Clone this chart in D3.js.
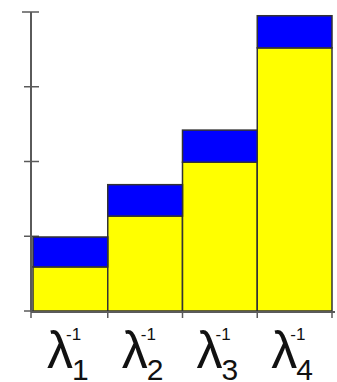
<!DOCTYPE html>
<html>
<head>
<meta charset="utf-8">
<script src="https://cdn.jsdelivr.net/npm/d3@7"></script>
<style>
  body { margin: 0; background: #fff; }
  svg { display: block; }
  text { font-family: "Liberation Sans", Arial, sans-serif; fill: #111; }
</style>
</head>
<body>
<div id="chart"></div>
<script>
// chart data
let categories = ['1', '2', '3', '4']
let yellowVals = [0.59, 1.27, 1.99, 3.52]
let blueVals = [0.40, 0.42, 0.43, 0.43]
let yTicks = [0, 1, 2, 3, 4]

var width = 337
var height = 382
var leftX = 33
var rightX = 332
var baseY = 311
var topY = 12

var svg = d3.select('#chart')
  .append('svg')
  .attr('width', width)
  .attr('height', height)

var x = d3.scaleBand()
  .domain(categories)
  .range([leftX, rightX])
  .padding(0)

var y = d3.scaleLinear()
  .domain([0, 4])
  .range([baseY, topY])

var axisColor = '#5a5a5a'

// left axis line + ticks (ticks cross the line)
svg.append('line')
  .attr('x1', 31).attr('x2', 31)
  .attr('y1', y(4)).attr('y2', y(0) + 1)
  .attr('stroke', axisColor)
  .attr('stroke-width', 2)

svg.selectAll('line.ytick')
  .data(yTicks)
  .enter().append('line')
  .attr('class', 'ytick')
  .attr('x1', function (d) { return d === 4 ? 22 : 24 })
  .attr('x2', 39)
  .attr('y1', function (d) { return y(d) })
  .attr('y2', function (d) { return y(d) })
  .attr('stroke', axisColor)
  .attr('stroke-width', 1.5)

// yellow part of each bar
svg.selectAll('rect.yellow')
  .data(categories)
  .enter().append('rect')
  .attr('class', 'yellow')
  .attr('x', function (d) { return x(d) })
  .attr('y', function (d, i) { return y(yellowVals[i]) })
  .attr('width', x.bandwidth())
  .attr('height', function (d, i) { return y(0) - y(yellowVals[i]) })
  .attr('fill', '#ffff00')
  .attr('stroke', '#333')
  .attr('stroke-width', 1.5)

// blue part stacked on top
svg.selectAll('rect.blue')
  .data(categories)
  .enter().append('rect')
  .attr('class', 'blue')
  .attr('x', function (d) { return x(d) })
  .attr('y', function (d, i) { return y(yellowVals[i] + blueVals[i]) })
  .attr('width', x.bandwidth())
  .attr('height', function (d, i) { return y(yellowVals[i]) - y(yellowVals[i] + blueVals[i]) })
  .attr('fill', '#0000ff')
  .attr('stroke', '#333')
  .attr('stroke-width', 1.5)

// bottom axis line, ticks at the bar edges
svg.append('line')
  .attr('x1', 31).attr('x2', rightX + 3)
  .attr('y1', baseY + 1).attr('y2', baseY + 1)
  .attr('stroke', axisColor)
  .attr('stroke-width', 2)

let edges = [31].concat(categories.slice(1).map(function (c) { return x(c) })).concat([rightX])
svg.selectAll('line.xtick')
  .data(edges)
  .enter().append('line')
  .attr('class', 'xtick')
  .attr('x1', function (d) { return d })
  .attr('x2', function (d) { return d })
  .attr('y1', baseY)
  .attr('y2', baseY + 7)
  .attr('stroke', axisColor)
  .attr('stroke-width', 1.5)

// labels: lambda with superscript -1 and subscript index
var labels = svg.selectAll('g.lab')
  .data(categories)
  .enter().append('g')
  .attr('class', 'lab')
  .attr('transform', function (d) { return 'translate(' + (x(d) + 14) + ',0)' })

labels.append('text')
  .attr('x', 0)
  .attr('y', 368)
  .attr('font-size', 52)
  .text('λ')

labels.append('text')
  .attr('x', 19)
  .attr('y', 340)
  .attr('font-size', 17)
  .text('-1')

labels.append('text')
  .attr('x', 25)
  .attr('y', 380)
  .attr('font-size', 30)
  .text(function (d) { return d })
</script>
</body>
</html>
